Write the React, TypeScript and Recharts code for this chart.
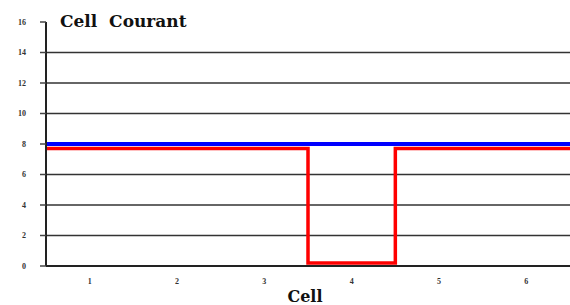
import React from 'react';
import { LineChart, Line, XAxis, YAxis, CartesianGrid } from 'recharts';

const cells = [1, 2, 3, 4, 5, 6];
const courantRef = [8, 8, 8, 8, 8, 8];
const courantCell = [7.7, 7.7, 7.7, 0.2, 7.7, 7.7];
const yTicks = [0, 2, 4, 6, 8, 10, 12, 14, 16];
const gridValues = [2, 4, 6, 8, 10, 12, 14];
const cellEdges = [0.5, 1.5, 2.5, 3.5, 4.5, 5.5, 6.5];

// each cell is a flat segment spanning its band, so the red trace steps at the band edges
const rows = cells.flatMap((c, i) => [
  { x: c - 0.5, ref: courantRef[i], cell: courantCell[i] },
  { x: c + 0.5, ref: courantRef[i], cell: courantCell[i] },
]);

const serif = '"Liberation Serif", "DejaVu Serif", serif';
const heavy = '"DejaVu Serif", serif';

const App: React.FC = () => (
  <div style={{ position: 'absolute', left: 0, top: 0, width: 570, height: 305, background: '#fff' }}>
    <LineChart width={570} height={305} data={rows} margin={{ top: 22, right: 0, left: 0, bottom: 0 }}>
      <CartesianGrid vertical={false} horizontalValues={gridValues} stroke="#333" strokeWidth={1.5} />
      <XAxis
        xAxisId="edges"
        dataKey="x"
        type="number"
        domain={[0.5, 6.5]}
        ticks={cellEdges}
        tick={false}
        tickSize={3}
        axisLine={{ stroke: '#222', strokeWidth: 2 }}
        tickLine={{ stroke: '#222', strokeWidth: 2 }}
        height={1}
      />
      <XAxis
        xAxisId="labels"
        dataKey="x"
        type="number"
        domain={[0.5, 6.5]}
        ticks={cells}
        axisLine={false}
        tickLine={false}
        tickMargin={5}
        tick={{ fontSize: 8, fill: '#333', fontFamily: serif, fontWeight: 700 }}
        height={38}
        label={{ value: 'Cell', position: 'insideBottom', offset: 3, dx: -3, fill: '#111', fontSize: 16, fontWeight: 700, fontFamily: heavy }}
      />
      <YAxis
        domain={[0, 16]}
        ticks={yTicks}
        interval={0}
        width={46}
        tickSize={6}
        tickMargin={14}
        axisLine={{ stroke: '#222', strokeWidth: 2 }}
        tickLine={{ stroke: '#444', strokeWidth: 1.5 }}
        tick={{ fontSize: 8, fill: '#333', fontFamily: serif, fontWeight: 700 }}
      />
      <Line xAxisId="edges" dataKey="cell" type="linear" stroke="#ff0000" strokeWidth={3.5} dot={false} isAnimationActive={false} />
      <Line xAxisId="edges" dataKey="ref" type="linear" stroke="#0000ff" strokeWidth={4} dot={false} isAnimationActive={false} />
      <text x={60} y={27} fontFamily={heavy} fontSize={17} fontWeight={700} fill="#111" style={{ whiteSpace: 'pre' }}>
        {'Cell  Courant'}
      </text>
    </LineChart>
  </div>
);

export default App;
